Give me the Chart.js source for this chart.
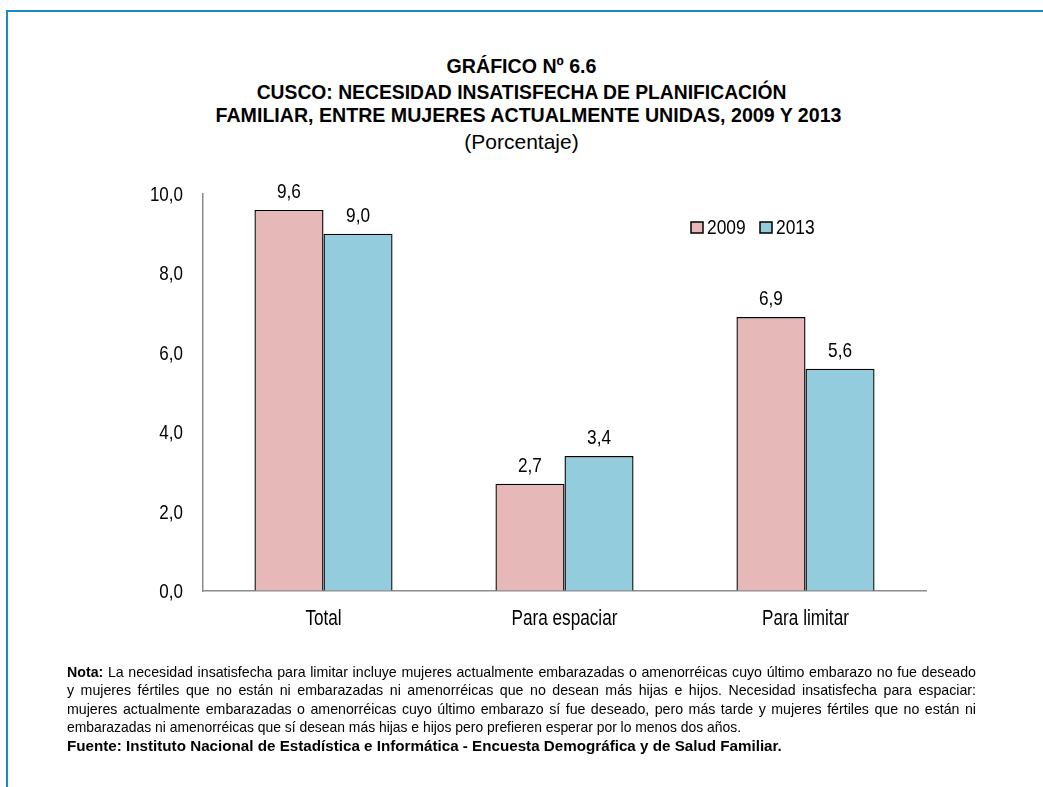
<!DOCTYPE html>
<html>
<head>
<meta charset="utf-8">
<script src="https://cdn.jsdelivr.net/npm/chart.js@4"></script>
<style>
  body { margin: 0; background: #fff; }
  #page { position: relative; width: 1043px; height: 787px; overflow: hidden; font-family: "Liberation Sans", Arial, sans-serif; color: #000; }
  #frame { position: absolute; left: 6px; top: 10px; width: 1100px; height: 900px; border-top: 2px solid #1a8ac6; border-left: 2px solid #1a8ac6; }
  #chartBox { position: absolute; left: 0; top: 0; width: 1043px; height: 787px; }
  .title { position: absolute; left: 0; width: 1043px; text-align: center; font-size: 20px; transform: scaleX(0.98); }
  #note { position: absolute; left: 67px; top: 663px; width: 909px; font-size: 14.2px; line-height: 18.4px; }
  #note div.j { text-align: justify; text-align-last: justify; }
</style>
</head>
<body>
<div id="page">
  <div id="frame"></div>
  <div class="title" style="top:55px"><b>GRÁFICO Nº 6.6</b></div>
  <div class="title" style="top:81px; transform:scaleX(0.965)"><b>CUSCO: NECESIDAD INSATISFECHA DE PLANIFICACIÓN</b></div>
  <div class="title" style="top:104px; left:7px"><b>FAMILIAR, ENTRE MUJERES ACTUALMENTE UNIDAS, 2009 Y 2013</b></div>
  <div class="title" style="top:130px; font-size:21px; transform:none">(Porcentaje)</div>
  <div id="chartBox"><canvas id="c"></canvas></div>
  <div id="note">
    <div class="j"><b>Nota:</b> La necesidad insatisfecha para limitar incluye mujeres actualmente embarazadas o amenorréicas cuyo último embarazo no fue deseado</div>
    <div class="j">y mujeres fértiles que no están ni embarazadas ni amenorréicas que no desean más hijas e hijos. Necesidad insatisfecha para espaciar:</div>
    <div class="j">mujeres actualmente embarazadas o amenorréicas cuyo último embarazo sí fue deseado, pero más tarde y mujeres fértiles que no están ni</div>
    <div style="font-size:13.9px">embarazadas ni amenorréicas que sí desean más hijas e hijos pero prefieren esperar por lo menos dos años.</div>
    <div style="font-size:15.2px"><b>Fuente: Instituto Nacional de Estadística e Informática - Encuesta Demográfica y de Salud Familiar.</b></div>
  </div>
</div>
<script>
const categories = ["Total", "Para espaciar", "Para limitar"];
const years = ["2009", "2013"];
const values2009 = [9.6, 2.7, 6.9];
const values2013 = [9.0, 3.4, 5.6];
const yTicks = [0, 2, 4, 6, 8, 10];

const FONT = '"Liberation Sans", Arial, sans-serif';
const fmt = v => v.toFixed(1).replace('.', ',');

// the original uses a condensed face, squeeze text horizontally
function narrowText(ctx, text, x, y, size, align, sx) {
  ctx.save();
  ctx.font = size + 'px ' + FONT;
  ctx.fillStyle = '#000';
  ctx.textBaseline = 'alphabetic';
  ctx.textAlign = align;
  ctx.translate(x, y);
  ctx.scale(sx, 1);
  ctx.fillText(text, 0, 0);
  ctx.restore();
}

// axis labels, value labels and legend
const textLayer = {
  id: 'textLayer',
  afterDraw(chart) {
    const ctx = chart.ctx;
    const area = chart.chartArea;
    const xs = chart.scales.x, ys = chart.scales.y;

    yTicks.forEach(v => {
      narrowText(ctx, fmt(v), area.left - 20, ys.getPixelForValue(v) + 7, 20, 'right', 0.85);
    });
    categories.forEach((c, i) => {
      narrowText(ctx, c, xs.getPixelForValue(i), area.bottom + 34, 22, 'center', 0.78);
    });

    chart.data.datasets.forEach((ds, i) => {
      chart.getDatasetMeta(i).data.forEach((bar, j) => {
        narrowText(ctx, fmt(ds.data[j]), bar.x, bar.y - 12, 21, 'center', 0.82);
      });
    });

    let x = area.right - 235;
    const y = area.top + 28;
    chart.data.datasets.forEach(ds => {
      ctx.save();
      ctx.fillStyle = ds.backgroundColor;
      ctx.fillRect(x, y, 12, 11);
      ctx.strokeStyle = '#000';
      ctx.lineWidth = 1.5;
      ctx.strokeRect(x, y, 12, 11);
      ctx.restore();
      narrowText(ctx, ds.label, x + 16, y + 12, 20, 'left', 0.87);
      x += 69;
    });
  }
};

new Chart(document.getElementById('c'), {
  type: 'bar',
  data: {
    labels: categories,
    datasets: [
      { label: years[0], data: values2009, backgroundColor: '#e6b9b8', borderColor: '#000', borderWidth: 1.4 },
      { label: years[1], data: values2013, backgroundColor: '#93cddd', borderColor: '#000', borderWidth: 1.4 }
    ]
  },
  options: {
    responsive: true,
    maintainAspectRatio: false,
    animation: false,
    layout: { padding: { left: 143, right: 117, top: 194, bottom: 156 } },
    plugins: { legend: { display: false }, tooltip: { enabled: false } },
    datasets: { bar: { categoryPercentage: 0.573, barPercentage: 1.0 } },
    scales: {
      x: {
        grid: { color: 'transparent', drawTicks: false },
        border: { display: true, color: '#8c8c8c', width: 1.5 },
        ticks: { display: false },
        afterFit: s => { s.height = 40; }
      },
      y: {
        min: 0, max: 10,
        grid: { color: 'transparent', drawTicks: false },
        border: { display: true, color: '#8c8c8c', width: 1.5 },
        afterBuildTicks: s => { s.ticks = yTicks.map(v => ({ value: v })); },
        ticks: { display: false },
        afterFit: s => { s.width = 60; }
      }
    }
  },
  plugins: [textLayer]
});
</script>
</body>
</html>
